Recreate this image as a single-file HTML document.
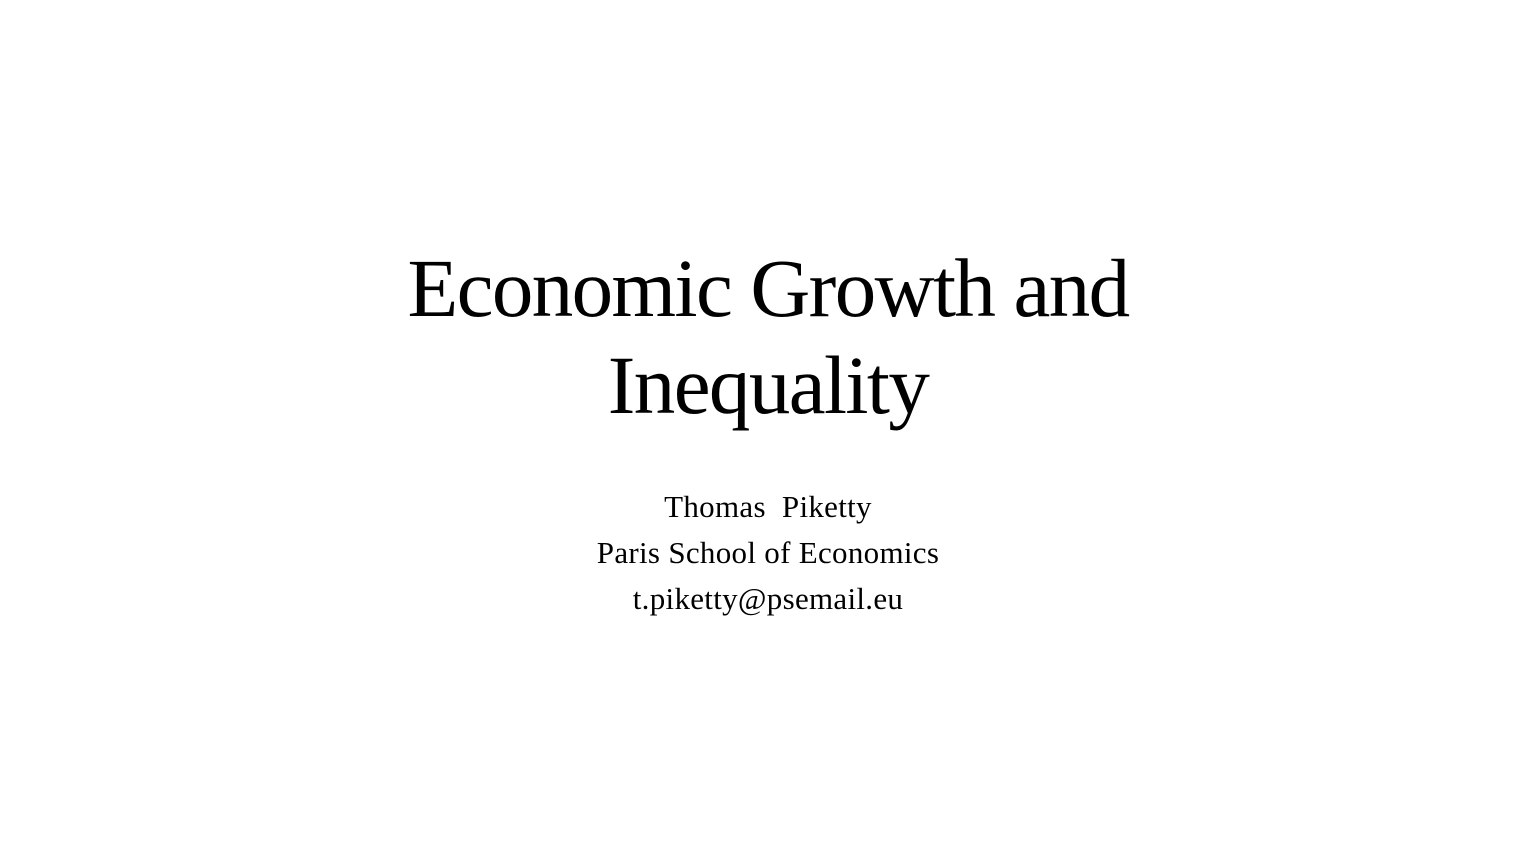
<!DOCTYPE html>
<html><head><meta charset="utf-8"><style>
html,body{margin:0;padding:0;background:#fff;}
body{width:1536px;height:864px;position:relative;overflow:hidden;font-family:"Liberation Serif",serif;color:#000;}
.t{position:absolute;left:0;width:1536px;text-align:center;white-space:nowrap;}
#l1{top:240px;font-size:83px;line-height:97px;letter-spacing:-1.6px;}
#l2{top:337px;font-size:83px;line-height:97px;letter-spacing:-1.6px;}
.s{font-size:31px;line-height:46px;letter-spacing:0.3px;}
#a{top:484px;}#b{top:530px;}#c{top:576px;}
</style></head><body>
<div class="t" id="l1">Economic Growth and</div>
<div class="t" id="l2">Inequality</div>
<div class="t s" id="a">Thomas&nbsp; Piketty</div>
<div class="t s" id="b">Paris School of Economics</div>
<div class="t s" id="c">t.piketty@psemail.eu</div>
</body></html>
